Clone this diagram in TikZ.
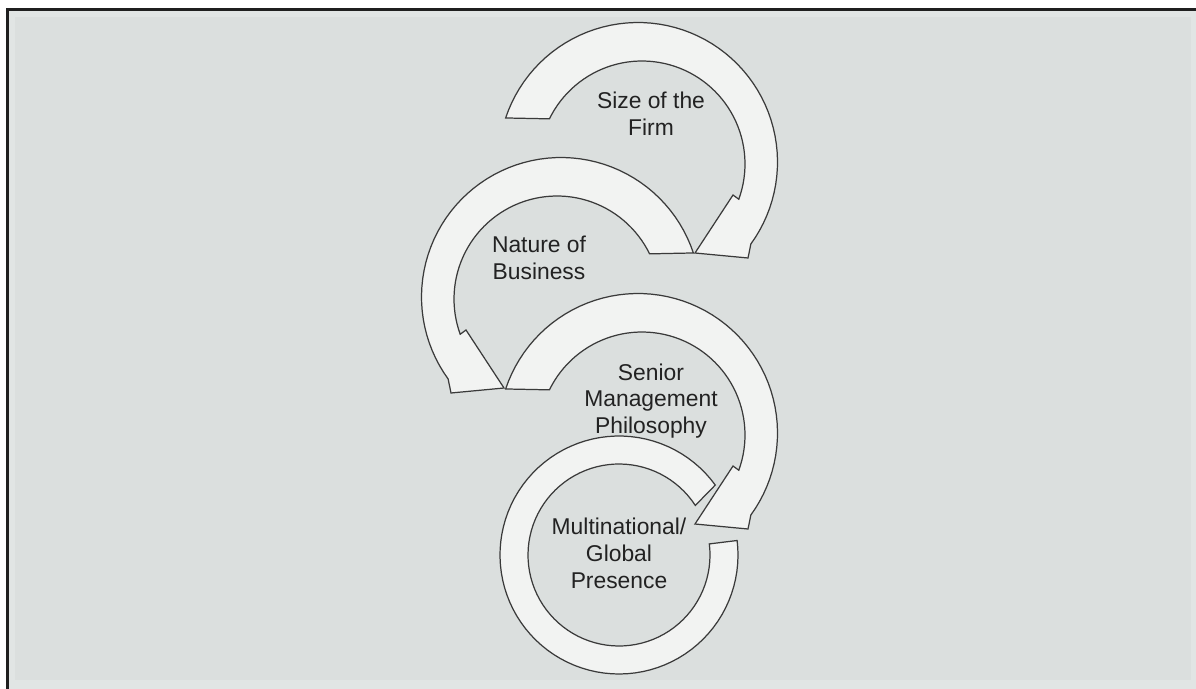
\documentclass[tikz,border=0pt]{standalone}
\usepackage{fontspec}
\setmainfont{Liberation Sans}
\definecolor{bgfill}{HTML}{DBDFDE}
\definecolor{bevel}{HTML}{E1E5E4}
\definecolor{shaftfill}{HTML}{F2F3F2}
\definecolor{outline}{HTML}{3A3A3A}
\definecolor{labeltext}{HTML}{222222}
\tikzset{
  arrowbody/.style={fill=shaftfill, draw=outline, line width=0.7pt, line join=miter},
  textlabel/.style={align=center, inner sep=0pt, text=labeltext,
    font=\fontsize{13}{15.3}\selectfont},
}
% One curved arrow: outer rim, head, inner rim, back to the tail
\newcommand{\curvedarrow}{%
  \path[arrowbody]
    plot[domain=198.4:396, samples=60] ({638+139.5*cos(\x)},{162+139.5*sin(\x)})
    -- (748,258) -- (695,253) -- (733,195)
    -- plot[domain=20:-154, samples=60] ({642+103*cos(\x)},{164+103*sin(\x)})
    -- cycle;}
\begin{document}
\begin{tikzpicture}[x=0.02cm, y=-0.02cm]
  \useasboundingbox (0,0) rectangle (1196,689);
  % window frame and panel
  \fill[white] (0,0) rectangle (1196,689);
  \fill[black!88] (6,8) rectangle (1196,689);
  \fill[bevel] (9,11) rectangle (1196,689);
  \fill[bgfill] (15,17) rectangle (1191,680);

  % the four cycle arrows
  \curvedarrow
  \begin{scope}[shift={(1199,135)}, xscale=-1]
    \curvedarrow
  \end{scope}
  \begin{scope}[shift={(0,271)}]
    \curvedarrow
  \end{scope}
  \path[arrowbody]
    plot[domain=-36:-367, samples=90] ({619+119*cos(\x)},{555+119*sin(\x)})
    -- plot[domain=-367:-33, samples=90] ({619+91*cos(\x)},{555+91*sin(\x)})
    -- cycle;

  % labels
  \node[textlabel] (firm)   at (651,114) {Size of the\\Firm};
  \node[textlabel] (nature) at (539,258) {Nature of\\Business};
  \node[textlabel] (senior) at (651,401) {Senior\\Management\\Philosophy};
  \node[textlabel] (global) at (619,553) {Multinational/\\Global\\Presence};
\end{tikzpicture}
\end{document}
